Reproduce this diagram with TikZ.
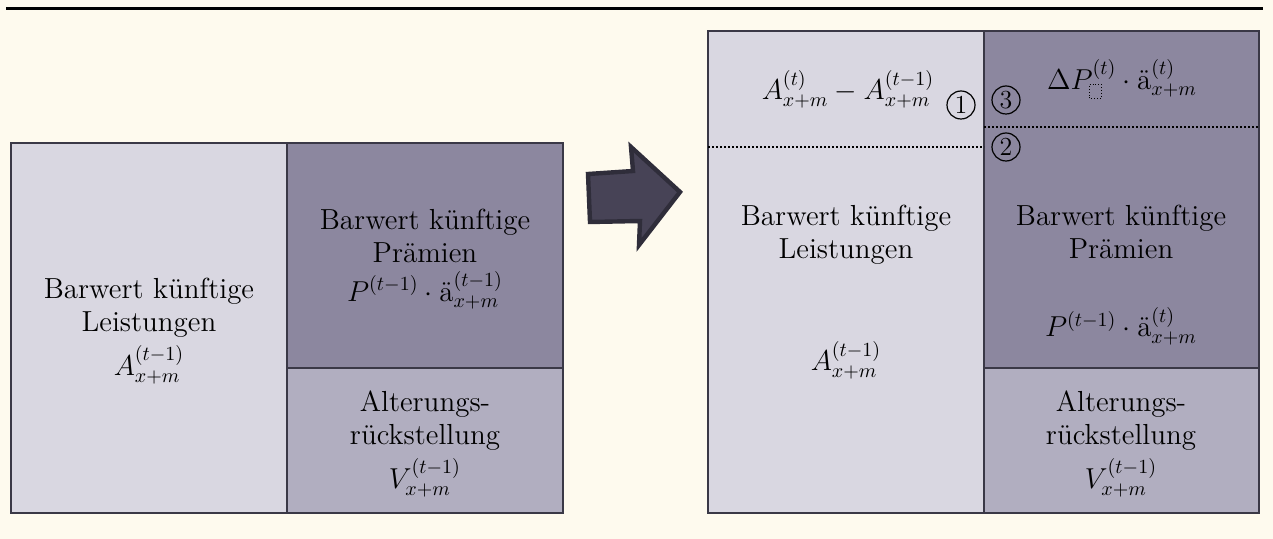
\documentclass[tikz,border=0pt]{standalone}
\usepackage{amsmath,amssymb}
\usepackage{tikz}
\usetikzlibrary{positioning}

\definecolor{bgcream}{HTML}{FEFAEE}
\definecolor{leistcol}{HTML}{D9D7E1}
\definecolor{praemcol}{HTML}{8C879F}
\definecolor{rueckcol}{HTML}{B1AEC0}
\definecolor{framecol}{HTML}{3A3846}
\definecolor{arrowcol}{HTML}{474356}
\definecolor{arrowline}{HTML}{2F2D3A}

\newcommand{\phbox}{\tikz[baseline=0pt]\draw[densely dotted, line width=0.45pt] (0,0) rectangle (6pt,7pt);}

\begin{document}
\begin{tikzpicture}[x=0.5pt, y=-0.5pt, font=\fontsize{14.5}{16.5}\selectfont,
    cell/.style={draw=framecol, line width=1.4pt},
    txt/.style={align=center, inner sep=0pt},
    num/.style={circle, draw, line width=0.6pt, inner sep=0pt, minimum size=14pt, font=\fontsize{13}{13}\selectfont},
    sep/.style={line width=1.3pt, dash pattern=on 1.1pt off 0.9pt}]
    \fill[bgcream] (0,0) rectangle (1273,539);
    \draw[line width=1.2pt] (6,8.5) -- (1263,8.5);
    % vorher
    \draw[cell, fill=leistcol] (11,143) rectangle (287,513);
    \draw[cell, fill=praemcol] (287,143) rectangle (563,368);
    \draw[cell, fill=rueckcol] (287,368) rectangle (563,513);
    \node[txt] (leistA) at (149,331) {Barwert künftige\\Leistungen\\[3pt]$A_{x+m}^{(t-1)}$};
    \node[txt] (praemA) at (425,259) {Barwert künftige\\Prämien\\[3pt]$P^{(t-1)}\cdot\text{ä}_{x+m}^{(t-1)}$};
    \node[txt] (rueckA) at (425,444) {Alterungs-\\rückstellung\\[3pt]$V_{x+m}^{(t-1)}$};
    % Pfeil
    \draw[fill=arrowcol, draw=arrowline, line width=2.2pt, line join=miter]
        (588,174) -- (633,171) -- (631,147) -- (680,192) -- (639,245) -- (640,221) -- (590,222) -- cycle;
    % nachher
    \draw[cell, fill=leistcol] (708,31) rectangle (984,513);
    \draw[cell, fill=praemcol] (984,31) rectangle (1259,368);
    \draw[cell, fill=rueckcol] (984,368) rectangle (1259,513);
    \draw[sep] (708,147) -- (984,147);
    \draw[sep] (984,127) -- (1259,127);
    \node[txt] (diffA) at (848,89) {$A_{x+m}^{(t)} - A_{x+m}^{(t-1)}$};
    \node[num] (n1) at (961,105) {1};
    \node[num] (n3) at (1006,100) {3};
    \node[num] (n2) at (1006,147) {2};
    \node[txt] (deltaP) at (1122,79) {$\Delta P_{\phbox}^{(t)}\cdot\text{ä}_{x+m}^{(t)}$};
    \node[txt] (leistB) at (846,235) {Barwert künftige\\Leistungen};
    \node[txt] (leistBA) at (846,360) {$A_{x+m}^{(t-1)}$};
    \node[txt] (praemB) at (1121,232) {Barwert künftige\\Prämien};
    \node[txt] (praemBP) at (1121,326) {$P^{(t-1)}\cdot\text{ä}_{x+m}^{(t)}$};
    \node[txt] (rueckB) at (1121,444) {Alterungs-\\rückstellung\\[3pt]$V_{x+m}^{(t-1)}$};
\end{tikzpicture}
\end{document}
